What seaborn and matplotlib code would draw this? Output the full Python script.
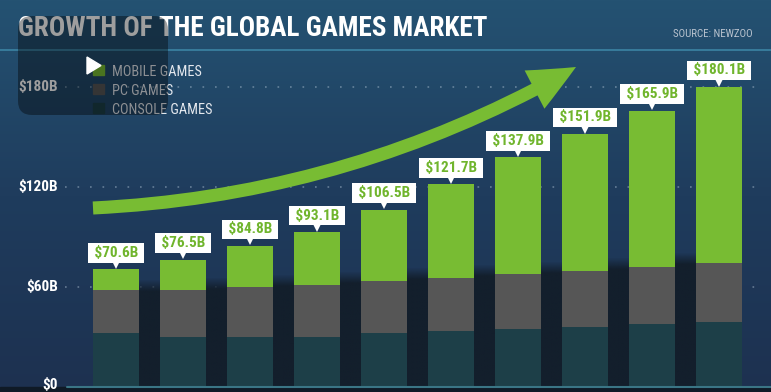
import numpy as np
import pandas as pd
import matplotlib.pyplot as plt
import seaborn as sns
from matplotlib.patches import FancyBboxPatch, FancyArrowPatch, Rectangle, Polygon
from matplotlib.colors import LinearSegmentedColormap, to_rgb

# Global games market by segment (US$ billions), source: Newzoo
years = ['2012', '2013', '2014', '2015', '2016', '2017', '2018', '2019', '2020', '2021']
totals = [70.6, 76.5, 84.8, 93.1, 106.5, 121.7, 137.9, 151.9, 165.9, 180.1]
console = [32.4, 30.0, 30.0, 30.0, 32.4, 33.6, 34.8, 36.0, 37.8, 39.0]
pc = [25.8, 28.2, 30.0, 31.2, 31.2, 31.8, 33.0, 33.6, 34.2, 35.4]
y_ticks = [0, 60, 120, 180]
y_labels = ['$0', '$60B', '$120B', '$180B']
legend_names = ['MOBILE GAMES', 'PC GAMES', 'CONSOLE GAMES']

GREEN = '#78bc33'
GRAY = '#565656'
TEAL = '#1d3f48'
SHADOW = '#131f2c'

df = pd.DataFrame({'year': years, 'total': totals, 'console': console, 'pc': pc})
df['console_pc'] = df['console'] + df['pc']

sns.set_style('white')
plt.rcParams['font.family'] = ['Roboto Condensed', 'Roboto', 'DejaVu Sans']

fig = plt.figure(figsize=(7.71, 3.92), dpi=100)

# background gradient
bg = fig.add_axes([0, 0, 1, 1], zorder=0)
cmap = LinearSegmentedColormap.from_list('bg', ['#245272', '#1f3c5d', '#1d3150'])
bg.imshow(np.linspace(0, 1, 256).reshape(-1, 1), cmap=cmap, aspect='auto', extent=(0, 1, 0, 1))
bg.axis('off')

# main chart
ax = fig.add_axes([0, 0, 1, 1], zorder=1)
ax.patch.set_alpha(0)
w = 0.687

bar_kw = dict(width=w, saturation=1, ax=ax, edgecolor='none', linewidth=0)
sns.barplot(data=df, x='year', y='total', color=GREEN, zorder=3, **bar_kw)
sns.barplot(data=df, x='year', y='console_pc', color=GRAY, zorder=4, **bar_kw)
sns.barplot(data=df, x='year', y='console', color=TEAL, zorder=5, **bar_kw)

# dark shadow between bars
rgb = to_rgb(SHADOW)
for i in range(len(years) - 1):
    h = max(df['console_pc'][i], df['console_pc'][i + 1]) + 1
    top = h + 5
    yy = np.linspace(top, 0, 100)
    grad = np.zeros((100, 1, 4))
    grad[..., :3] = rgb
    grad[:, 0, 3] = np.clip((top - yy) / 7, 0, 1)
    ax.imshow(grad, extent=(i + w / 2, i + 1 - w / 2, 0, top), aspect='auto', zorder=2)

# grid, baseline, tick labels
for t, lab in zip(y_ticks, y_labels):
    if t > 0:
        ax.axhline(t, xmin=65 / 771, xmax=760 / 771, color='#9fb3c6', alpha=0.55,
                   lw=1.2, ls=(0, (1, 6.5)), zorder=1)
        ax.text(58 / 771, t, lab, transform=ax.get_yaxis_transform(), ha='right',
                va='center', fontsize=11, fontweight='bold', color='white', zorder=6)
    else:
        ax.text(58 / 771, t - 1.2, lab, transform=ax.get_yaxis_transform(), ha='right',
                va='baseline', fontsize=11, fontweight='bold', color='white', zorder=6)
ax.axhspan(-5, 0, color='#0f1a26', zorder=1)
ax.axhline(0, xmin=67 / 771, color='#3a7585', lw=1.5, zorder=6)

# value labels
for i, t in enumerate(totals):
    ax.plot(i, t + 2.6, marker='v', ms=5.5, color='white', mew=0, zorder=7)
    ax.text(i, t + 9.8, f' ${t}B ', ha='center', va='center', fontsize=11,
            fontweight='bold', color='#70b52d', zorder=8,
            bbox=dict(boxstyle='square,pad=0.18', fc='white', ec='none'))

ax.set_xlim(-116 / 67, (771 - 116) / 67)
ax.set_ylim(-3.0, 232.2)
ax.axis('off')

# overlay in pixel coordinates
ov = fig.add_axes([0, 0, 1, 1], zorder=2)
ov.set_xlim(0, 771)
ov.set_ylim(392, 0)
ov.patch.set_alpha(0)
ov.axis('off')

ov.text(18, 36, 'GROWTH OF THE GLOBAL GAMES MARKET', fontsize=19.5, fontweight='bold',
        color='white', va='baseline', zorder=2)
ov.text(753, 37, 'SOURCE: NEWZOO', fontsize=7.8, color='#b9c3cf', ha='right', va='baseline')
ov.axhline(50, color='#3c84a4', lw=1.2, zorder=1)

for k, (name, col) in enumerate(zip(legend_names, [GREEN, GRAY, TEAL])):
    ov.add_patch(Rectangle((93, 65 + 19 * k), 11, 10, color=col, zorder=3))
    ov.text(112, 76 + 19 * k, name, fontsize=10.3, color='#e4e8ee', va='baseline', zorder=3)

ov.add_patch(FancyBboxPatch((18, 16), 150, 99, boxstyle='round,pad=0,rounding_size=14',
                            fc='black', ec='none', alpha=0.38, zorder=5))
ov.add_patch(Polygon([(87, 57), (87, 74), (101, 65.5)], closed=True, color='white', zorder=6))

ov.add_patch(FancyArrowPatch((93, 208), (576, 67), connectionstyle='arc3,rad=0.12',
                             arrowstyle='simple,head_length=34,head_width=31,tail_width=9.4',
                             mutation_scale=1, shrinkA=0, shrinkB=0, color=GREEN, lw=0, zorder=4))

fig.savefig('out.png', dpi=100)
